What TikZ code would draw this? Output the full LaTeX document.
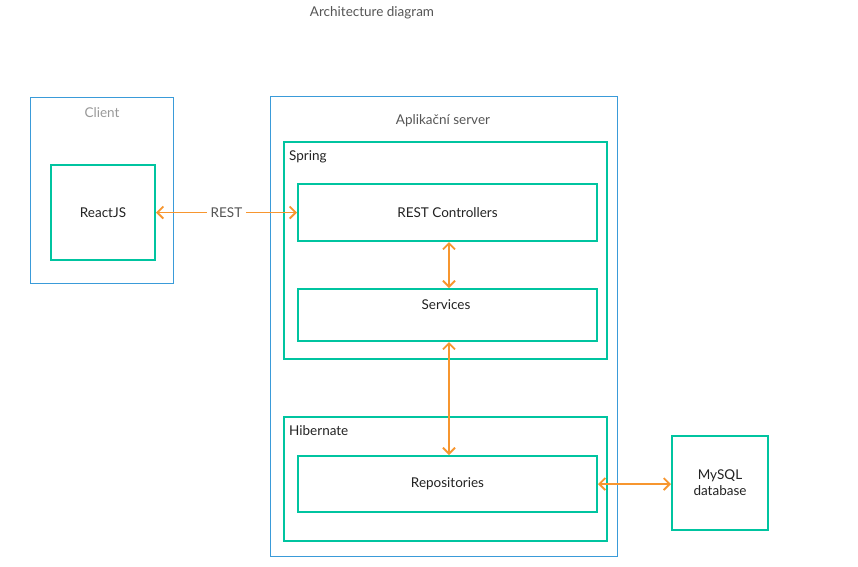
\documentclass[tikz,border=0pt]{standalone}
\usepackage{fontspec}
\setmainfont{Lato}
\usetikzlibrary{arrows.meta,positioning}
\definecolor{BoxTeal}{HTML}{00C4A0}
\definecolor{FrameBlue}{HTML}{3A9BD9}
\definecolor{ArrowOrange}{HTML}{F7962F}
\definecolor{TextGray}{HTML}{555555}
\definecolor{LightGray}{HTML}{999999}
\definecolor{TextDark}{HTML}{222222}
\tikzset{%
  FrameStyle/.style={draw=FrameBlue,line width=0.8pt,anchor=north west,inner sep=0pt},
  BoxStyle/.style={draw=BoxTeal,line width=2pt,anchor=north west,inner sep=0pt,
    align=center,text=TextDark},
  TagStyle/.style={anchor=west,inner sep=0pt,text=TextDark},
  ArrowStyle/.style={draw=ArrowOrange,line width=1.8pt,
    {Straight Barb[length=6pt,width=12pt]}-{Straight Barb[length=6pt,width=12pt]}}
}

\begin{document}
\begin{tikzpicture}[x=1pt,y=-1pt,font=\fontsize{13.5}{16}\selectfont]
  \useasboundingbox[fill=white] (0,0) rectangle (858,566);
  \node[text=TextGray] (title) at (372,13) {Architecture diagram};
  % client side
  \node[FrameStyle,minimum width=143pt,minimum height=186pt] (client) at (30,97) {};
  \node[text=LightGray] (clientlbl) at (102,113) {Client};
  \node[BoxStyle,minimum width=104pt,minimum height=95pt] (react) at (50,164) {ReactJS};
  % server side
  \node[FrameStyle,minimum width=347pt,minimum height=460pt] (server) at (270,96) {};
  \node[text=TextGray] (serverlbl) at (443,121) {Aplikační server};
  \node[BoxStyle,minimum width=323pt,minimum height=217pt] (spring) at (283,141) {};
  \node[TagStyle] (springlbl) at (289,157) {Spring};
  \node[BoxStyle,minimum width=299pt,minimum height=57pt] (restctl) at (297,183) {REST Controllers};
  \node[BoxStyle,minimum width=299pt,minimum height=52pt] (services) at (297,288) {};
  \node[text=TextDark] (serviceslbl) at (446,305) {Services};
  \node[BoxStyle,minimum width=323pt,minimum height=124pt] (hibernate) at (283,416) {};
  \node[TagStyle] (hibernatelbl) at (289,431) {Hibernate};
  \node[BoxStyle,minimum width=299pt,minimum height=56pt] (repos) at (297,455) {Repositories};
  % database
  \node[BoxStyle,minimum width=96pt,minimum height=94pt] (mysql) at (671,435) {MySQL\\database};
  % connectors
  \draw[ArrowStyle] (react.east) -- node[fill=white,text=TextGray,inner sep=4pt]{REST} (restctl.west);
  \draw[ArrowStyle] ([xshift=1.5pt]restctl.south) -- ([xshift=1.5pt]services.north);
  \draw[ArrowStyle] ([xshift=1.5pt]services.south) -- ([xshift=1.5pt]repos.north);
  \draw[ArrowStyle] (repos.east) -- (repos.east -| mysql.west);
\end{tikzpicture}
\end{document}
